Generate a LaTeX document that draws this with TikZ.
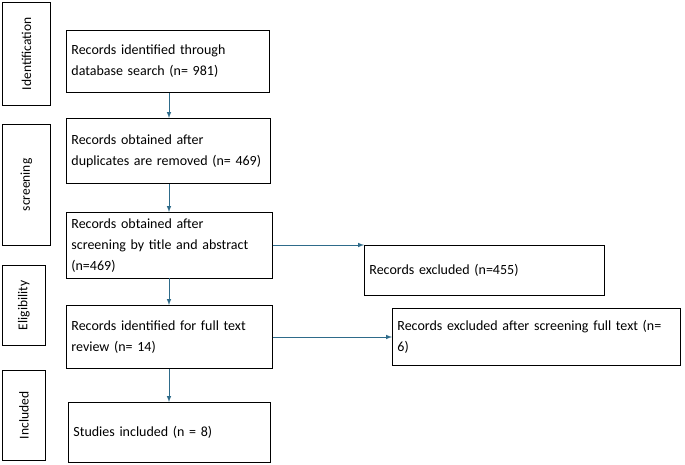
\documentclass[tikz,border=0pt]{standalone}
\usepackage{fontspec}
\setmainfont{Carlito}
\usetikzlibrary{positioning}
\tikzset{
  box/.style={draw=black,line width=0.8pt,anchor=north west,align=left,inner xsep=5pt,inner ysep=6pt,font=\fontsize{14}{21}\selectfont},
  stage/.style={draw=black,line width=0.8pt,anchor=north west,inner sep=0pt},
  stagetext/.style={rotate=90,font=\fontsize{13.5}{15}\selectfont},
  flow/.style={draw={rgb,255:red,46;green,107;blue,138},line width=1pt,-latex}
}
\begin{document}
\begin{tikzpicture}[x=1pt,y=-1pt]
\useasboundingbox (0,0) rectangle (685,465);
% stages
\node[stage,minimum width=48pt,minimum height=103pt] (id) at (2,2) {};
\node[stagetext] at (id.center) {Identification};
\node[stage,minimum width=48pt,minimum height=121pt] (sc) at (2,124) {};
\node[stagetext] at (sc.center) {screening};
\node[stage,minimum width=43pt,minimum height=80pt] (el) at (2,265) {};
\node[stagetext] at (el.center) {Eligibility};
\node[stage,minimum width=43pt,minimum height=90pt] (in) at (2,370) {};
\node[stagetext] at (in.center) {Included};
% main column
\node[box,text width=193pt,minimum height=62pt] (b1) at (66,30) {Records identified through\\database search (n= 981)};
\node[box,text width=194pt,minimum height=65pt] (b2) at (66,118) {Records obtained after\\duplicates are removed (n= 469)};
\node[box,text width=196pt,minimum height=63pt] (b3) at (66,212) {Records obtained after\\screening by title and abstract\\(n=469)};
\node[box,text width=196pt,minimum height=63pt] (b4) at (66,305) {Records identified for full text\\review (n= 14)};
\node[box,text width=192pt,minimum height=60pt] (b5) at (68,402) {Studies included (n = 8)};
% exclusions
\node[box,text width=230pt,minimum height=50pt] (x1) at (364,245) {Records excluded (n=455)};
\node[box,text width=278pt,minimum height=57pt] (x2) at (392,308) {Records excluded after screening full text (n= 6)};
% arrows
\draw[flow] (b1.south -| 169,0) -- (b2.north -| 169,0);
\draw[flow] (b2.south -| 169,0) -- (b3.north -| 169,0);
\draw[flow] (b3.south -| 169,0) -- (b4.north -| 169,0);
\draw[flow] (b4.south -| 169,0) -- (b5.north -| 169,0);
\draw[flow] (b3.east |- 0,245) -- (x1.west |- 0,245);
\draw[flow] (b4.east |- 0,337) -- (x2.west |- 0,337);
\end{tikzpicture}
\end{document}
